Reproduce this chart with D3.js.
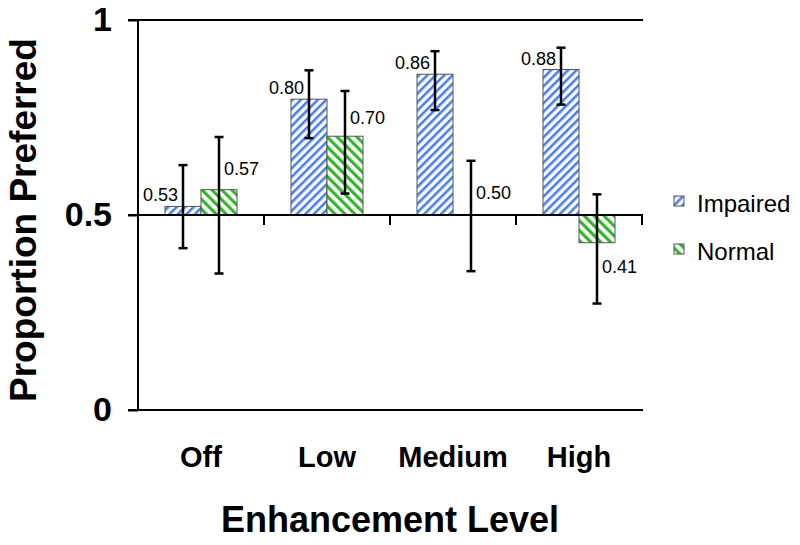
<!DOCTYPE html>
<html>
<head>
<meta charset="utf-8">
<script src="https://cdn.jsdelivr.net/npm/d3@7/dist/d3.min.js"></script>
<style>
  body { margin: 0; background: #fff; }
  text { font-family: "Liberation Sans", Arial, Helvetica, sans-serif; fill: #000; }
</style>
</head>
<body>
<script>
var w = 800;
var h = 545;

// data
var levels = ["Off", "Low", "Medium", "High"];
var series = ["Impaired", "Normal"];
var impaired = [0.522, 0.797, 0.861, 0.873];
var normal = [0.565, 0.702, 0.50, 0.429];
var impairedLo = [0.415, 0.697, 0.769, 0.783];
var impairedHi = [0.628, 0.871, 0.920, 0.929];
var normalLo = [0.350, 0.555, 0.356, 0.273];
var normalHi = [0.700, 0.818, 0.639, 0.553];
var impairedLabels = ["0.53", "0.80", "0.86", "0.88"];
var normalLabels = ["0.57", "0.70", "0.50", "0.41"];
var yTicks = [0, 0.5, 1];
var yTickLabels = ["0", "0.5", "1"];

var rows = [];
levels.forEach(function(l, i) {
  rows.push({level: l, s: "Impaired", v: impaired[i], lo: impairedLo[i], hi: impairedHi[i], lab: impairedLabels[i]});
  rows.push({level: l, s: "Normal", v: normal[i], lo: normalLo[i], hi: normalHi[i], lab: normalLabels[i]});
});

var svg = d3.select("body")
  .append("svg")
  .attr("width", w)
  .attr("height", h);

var defs = svg.append("defs");
var pb = defs.append("pattern")
  .attr("id", "hatchBlue")
  .attr("patternUnits", "userSpaceOnUse")
  .attr("width", 6).attr("height", 6)
  .attr("patternTransform", "rotate(45)");
pb.append("rect").attr("width", 6).attr("height", 6).attr("fill", "#fff");
pb.append("rect").attr("width", 2.6).attr("height", 6).attr("fill", "#4a7fe6");

var pg = defs.append("pattern")
  .attr("id", "hatchGreen")
  .attr("patternUnits", "userSpaceOnUse")
  .attr("width", 7).attr("height", 7)
  .attr("patternTransform", "rotate(-45)");
pg.append("rect").attr("width", 7).attr("height", 7).attr("fill", "#fff");
pg.append("rect").attr("width", 3.2).attr("height", 7).attr("fill", "#34b52c");

var fills = {Impaired: "url(#hatchBlue)", Normal: "url(#hatchGreen)"};

var x0 = d3.scaleBand().domain(levels).range([138, 642]);
var x1 = d3.scaleBand().domain(series).range([0, x0.bandwidth()]).paddingOuter(0.75);
var y = d3.scaleLinear().domain([0, 1]).range([410, 20]);

// frame lines at 1 and 0
[1, 0].forEach(function(v) {
  svg.append("line")
    .attr("x1", 128).attr("x2", x0.range()[1] + 1)
    .attr("y1", y(v)).attr("y2", y(v))
    .attr("stroke", "#000").attr("stroke-width", 2);
});

// y axis
var yAxis = d3.axisLeft(y)
  .tickValues(yTicks)
  .tickSize(10)
  .tickPadding(16)
  .tickFormat(function(d, i) { return yTickLabels[i]; });
var gy = svg.append("g")
  .attr("transform", "translate(138,0)")
  .call(yAxis);
gy.select(".domain").attr("stroke-width", 2).attr("d", "M0," + y(1) + "V" + y(0));
gy.selectAll(".tick line").attr("stroke-width", 2);
gy.selectAll(".tick text")
  .attr("font-family", "Liberation Sans, Arial, sans-serif")
  .attr("font-weight", "bold")
  .attr("font-size", 34);

// bars
var g = svg.append("g");
g.selectAll("rect.bar")
  .data(rows.filter(function(d) { return d.v !== 0.5; }))
  .enter()
  .append("rect")
  .attr("class", "bar")
  .attr("x", function(d) { return x0(d.level) + x1(d.s); })
  .attr("width", x1.bandwidth())
  .attr("y", function(d) { return Math.min(y(d.v), y(0.5)); })
  .attr("height", function(d) { return Math.abs(y(d.v) - y(0.5)); })
  .attr("fill", function(d) { return fills[d.s]; })
  .attr("stroke", "#555")
  .attr("stroke-width", 1);

// baseline at 0.5 with group ticks
svg.append("line")
  .attr("x1", 128).attr("x2", x0.range()[1] + 1)
  .attr("y1", y(0.5)).attr("y2", y(0.5))
  .attr("stroke", "#000").attr("stroke-width", 2);
levels.concat(["end"]).forEach(function(l, i) {
  var xx = i < levels.length ? x0(l) : x0.range()[1];
  svg.append("line")
    .attr("x1", xx).attr("x2", xx)
    .attr("y1", y(0.5)).attr("y2", y(0.5) + 10)
    .attr("stroke", "#000").attr("stroke-width", 2);
});

// error bars
var cx = function(d) { return x0(d.level) + x1(d.s) + x1.bandwidth() / 2; };
var eb = g.selectAll("g.err")
  .data(rows)
  .enter()
  .append("g")
  .attr("class", "err")
  .attr("stroke", "#000")
  .attr("stroke-width", 2.5);
eb.append("line")
  .attr("x1", cx).attr("x2", cx)
  .attr("y1", function(d) { return y(d.lo); })
  .attr("y2", function(d) { return y(d.hi); });
eb.append("line")
  .attr("x1", function(d) { return cx(d) - 4.5; })
  .attr("x2", function(d) { return cx(d) + 4.5; })
  .attr("y1", function(d) { return y(d.lo); })
  .attr("y2", function(d) { return y(d.lo); });
eb.append("line")
  .attr("x1", function(d) { return cx(d) - 4.5; })
  .attr("x2", function(d) { return cx(d) + 4.5; })
  .attr("y1", function(d) { return y(d.hi); })
  .attr("y2", function(d) { return y(d.hi); });

// value labels
g.selectAll("text.val")
  .data(rows)
  .enter()
  .append("text")
  .attr("class", "val")
  .attr("font-size", 18)
  .attr("text-anchor", function(d) { return d.s === "Impaired" ? "end" : "start"; })
  .attr("x", function(d) { return d.s === "Impaired" ? cx(d) - 5 : cx(d) + 5; })
  .attr("y", function(d) {
    if (d.s === "Impaired") return y(d.v) - 5;
    var far = d.v >= 0.5 ? d.hi : d.lo;
    return y(d.v) + 0.4 * (y(far) - y(d.v)) + 6;
  })
  .text(function(d) { return d.lab; });

// category labels
svg.selectAll("text.cat")
  .data(levels)
  .enter()
  .append("text")
  .attr("class", "cat")
  .attr("x", function(d) { return x0(d) + x0.bandwidth() / 2; })
  .attr("y", 467)
  .attr("text-anchor", "middle")
  .attr("font-weight", "bold")
  .attr("font-size", 29)
  .text(function(d) { return d; });

// axis titles
svg.append("text")
  .attr("x", 390)
  .attr("y", 532)
  .attr("text-anchor", "middle")
  .attr("font-weight", "bold")
  .attr("font-size", 36)
  .text("Enhancement Level");

svg.append("text")
  .attr("transform", "translate(36,220) rotate(-90)")
  .attr("text-anchor", "middle")
  .attr("font-weight", "bold")
  .attr("font-size", 37)
  .text("Proportion Preferred");

// legend
var leg = svg.selectAll("g.leg")
  .data(series)
  .enter()
  .append("g")
  .attr("class", "leg")
  .attr("transform", function(d, i) { return "translate(674," + (212 + i * 48) + ")"; });
leg.append("rect")
  .attr("x", 0).attr("y", -16)
  .attr("width", 10).attr("height", 10)
  .attr("fill", function(d) { return fills[d]; })
  .attr("stroke", "#555")
  .attr("stroke-width", 1);
leg.append("text")
  .attr("x", 23)
  .attr("y", 0)
  .attr("font-size", 24)
  .text(function(d) { return d; });
</script>
</body>
</html>
